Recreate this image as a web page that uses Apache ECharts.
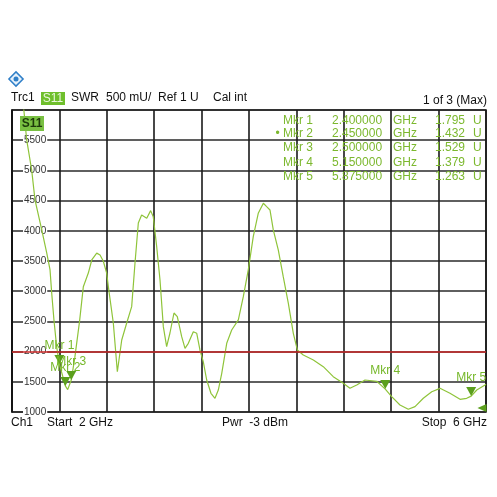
<!DOCTYPE html>
<html>
<head>
<meta charset="utf-8">
<script src="https://cdn.jsdelivr.net/npm/echarts@6/dist/echarts.min.js"></script>
<style>
  html, body { margin: 0; padding: 0; background: #fff; }
  #chart { width: 497px; height: 497px; }
</style>
</head>
<body>
<div id="chart"></div>
<script>
// trace S11 (SWR, mU) vs frequency (GHz)
const freqs = [2.00, 2.10, 2.124, 2.166, 2.194, 2.251, 2.293, 2.321, 2.335, 2.354, 2.377, 2.40, 2.45, 2.47, 2.50, 2.53, 2.57,
  2.602, 2.644, 2.673, 2.715, 2.743, 2.770, 2.799, 2.813, 2.855, 2.889, 2.926, 2.968, 3.010, 3.038, 3.066, 3.094,
  3.137, 3.170, 3.192, 3.221, 3.249, 3.277, 3.305, 3.333, 3.367, 3.395, 3.432, 3.460, 3.488, 3.530, 3.559, 3.586,
  3.614, 3.643, 3.679, 3.713, 3.741, 3.770, 3.812, 3.854, 3.910, 3.952, 3.994, 4.036, 4.078, 4.121, 4.149, 4.177,
  4.205, 4.247, 4.289, 4.332, 4.374, 4.408, 4.458, 4.543, 4.627, 4.711, 4.796, 4.852, 4.909, 4.979, 5.078, 5.15,
  5.204, 5.274, 5.344, 5.401, 5.471, 5.542, 5.612, 5.696, 5.781, 5.837, 5.875, 5.922, 5.992, 6.00];
const swr = [7000, 6000, 5504, 5007, 4511, 4014, 3633, 3352, 2971, 2524, 2077, 1795, 1432, 1370, 1529, 1900, 2500,
  3075, 3300, 3517, 3630, 3600, 3500, 3300, 3075, 2474, 1667, 2192, 2474, 2744, 3467, 4130, 4262,
  4207, 4334, 4234, 3737, 3186, 2413, 2081, 2308, 2639, 2578, 2247, 2054, 2137, 2330, 2303, 2027,
  1833, 1530, 1310, 1227, 1364, 1640, 2137, 2358, 2524, 2909, 3352, 3903, 4290, 4456, 4400, 4345,
  4014, 3683, 3241, 2800, 2303, 2027, 1944, 1861, 1750, 1585, 1475, 1392, 1447, 1530, 1508, 1379,
  1254, 1116, 1045, 1088, 1227, 1336, 1392, 1310, 1210, 1227, 1263, 1364, 1447, 1460];

const markerNames = ['Mkr 1', 'Mkr 2', 'Mkr 3', 'Mkr 4', 'Mkr 5'];
const markerFreqs = [2.40, 2.45, 2.50, 5.15, 5.875];
const markerValues = [1795, 1432, 1529, 1379, 1263];
const limitLine = 2000;

const green = '#7cb82e';
const font = 'Liberation Sans, Arial, sans-serif';

const chart = echarts.init(document.getElementById('chart'));

const texts = [];
function txt(x, y, s, opt) {
  texts.push({
    type: 'text', x: x, y: y, z: 20,
    style: Object.assign({ text: s, fill: '#111', font: '12px ' + font, textVerticalAlign: 'middle' }, opt || {})
  });
}
// header line
txt(11, 98, 'Trc1');
txt(71, 98, 'SWR');
txt(106, 98, '500 mU/');
txt(158, 98, 'Ref 1 U');
txt(213, 98, 'Cal int');
txt(487, 101, '1 of 3 (Max)', { textAlign: 'right' });
// footer line
txt(11, 423, 'Ch1');
txt(47, 423, 'Start  2 GHz');
txt(222, 423, 'Pwr  -3 dBm');
txt(487, 423, 'Stop  6 GHz', { textAlign: 'right' });
// marker table
const rowY = [121, 134, 148, 163, 177];
markerNames.forEach(function (n, i) {
  txt(313, rowY[i], (i === 1 ? '\u2022 ' : '') + n, { fill: green, textAlign: 'right' });
  txt(332, rowY[i], markerFreqs[i].toFixed(6), { fill: green });
  txt(393, rowY[i], 'GHz', { fill: green });
  txt(435, rowY[i], (markerValues[i] / 1000).toFixed(3), { fill: green });
  txt(473, rowY[i], 'U', { fill: green });
});

// draw Mkr 3 before Mkr 2 so the Mkr 2 label sits on top, as on the screen
const drawOrder = [0, 2, 1, 3, 4];

chart.setOption({
  animation: false,
  backgroundColor: '#fff',
  grid: { left: 12, right: 11, top: 110, bottom: 85, show: true, borderColor: '#111', borderWidth: 1.5 },
  xAxis: {
    type: 'value', min: 2, max: 6, interval: 0.4,
    axisLine: { show: false }, axisTick: { show: false }, axisLabel: { show: false },
    splitLine: { lineStyle: { color: '#1a1a1a', width: 1.6 } }
  },
  yAxis: {
    type: 'value', min: 1000, max: 6000, interval: 500,
    axisLine: { show: true, lineStyle: { color: '#111', width: 1.5 } },
    axisTick: { show: false },
    axisLabel: {
      inside: true, margin: 11, showMaxLabel: false,
      formatter: function (v) { return String(v); },
      color: '#333', fontSize: 10, fontFamily: font,
      backgroundColor: '#fff', padding: [0, 1]
    },
    splitLine: { lineStyle: { color: '#2a2a2a', width: 1.6 } }
  },
  series: [{
    type: 'line',
    data: freqs.map(function (f, i) { return [f, swr[i]]; }),
    showSymbol: false,
    clip: true,
    lineStyle: { color: '#8fc43a', width: 1.2 },
    markLine: {
      silent: true, symbol: 'none', label: { show: false },
      lineStyle: { color: '#cc2a2a', width: 1.5, type: 'solid' },
      data: [{ yAxis: limitLine }]
    },
    markPoint: {
      symbol: 'triangle', symbolRotate: 180, symbolSize: [10, 9], symbolOffset: [0, '-50%'],
      itemStyle: { color: '#5b9f1c' },
      label: { show: true, position: 'top', distance: 3, color: '#76b82a', fontSize: 12, fontFamily: font },
      data: drawOrder.map(function (i) {
        const n = markerNames[i];
        return { name: n, coord: [markerFreqs[i], markerValues[i]], label: { formatter: n } };
      }).concat([{
        name: 'off', coord: [6, 1000], symbolRotate: 90, symbolSize: [8, 9], symbolOffset: [-4, -4],
        label: { show: false }
      }])
    }
  }],
  graphic: texts.concat([
    // header S11 badge
    { type: 'rect', shape: { x: 41, y: 92, width: 24, height: 13 }, style: { fill: '#6fbf2c' }, z: 19 },
    { type: 'text', x: 53, y: 98.5, z: 20, style: { text: 'S11', fill: '#e9f7dc', font: '12px ' + font, textAlign: 'center', textVerticalAlign: 'middle' } },
    // grid S11 badge
    { type: 'rect', shape: { x: 20, y: 116, width: 24, height: 15 }, style: { fill: '#79c042' }, z: 19 },
    { type: 'text', x: 32, y: 123.5, z: 20, style: { text: 'S11', fill: '#1d3a0a', font: 'bold 12px ' + font, textAlign: 'center', textVerticalAlign: 'middle' } },
    // logo
    { type: 'rect', x: 16, y: 79, rotation: Math.PI / 4, shape: { x: -5, y: -5, width: 10, height: 10 }, style: { fill: '#e6f1fb', stroke: '#2f7fc8', lineWidth: 1.5 }, z: 20 },
    { type: 'circle', shape: { cx: 16, cy: 79, r: 2.5 }, style: { fill: '#2f7fc8' }, z: 21 }
  ])
});
</script>
</body>
</html>
